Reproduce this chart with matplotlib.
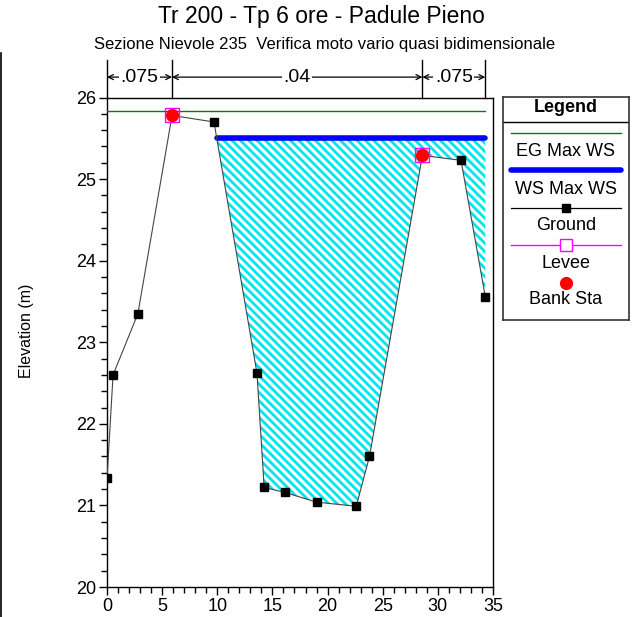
#!/usr/bin/env python3

import numpy as np
import matplotlib
matplotlib.use("Agg")
import matplotlib.pyplot as plt
from matplotlib.lines import Line2D
from matplotlib.ticker import MultipleLocator

# ground profile (station, elevation)
station = [0.0, 0.55, 2.8, 5.9, 9.7, 13.6, 14.25, 16.1, 19.0, 22.6, 23.8, 28.6, 32.1, 34.3]
ground = [21.33, 22.60, 23.35, 25.78, 25.70, 22.62, 21.22, 21.16, 21.04, 20.99, 21.60, 25.29, 25.23, 23.56]

ws_max = 25.50        # WS Max WS
eg_max = 25.83        # EG Max WS
bank_sta = [5.9, 28.6]
bank_elev = [25.78, 25.29]
levee_sta = [5.9, 28.6]
levee_elev = [25.78, 25.29]

# manning's n zones
n_bounds = [0.0, 5.9, 28.6, 34.3]
n_values = [".075", ".04", ".075"]

plt.rcParams['font.family'] = ['Liberation Sans', 'DejaVu Sans']
plt.rcParams['hatch.linewidth'] = 2.0

W, H = 639, 617
fig = plt.figure(figsize=(W / 100, H / 100), dpi=100)
ax = fig.add_axes([107 / W, 1 - 587 / H, (493 - 107) / W, (587 - 97.5) / H])

x = np.array(station)
z = np.array(ground)

# water fill between ground and water surface, only past the left levee
xf = np.linspace(x[0], x[-1], 4000)
zf = np.interp(xf, x, z)
wet = (zf < ws_max) & (xf > levee_sta[0])
ax.fill_between(xf, zf, ws_max, where=wet, facecolor='white', edgecolor='#00e5ee',
                hatch='\\\\\\\\', linewidth=0, zorder=1)

# water surface extent
x_ws0 = xf[wet][0]
ax.plot([x_ws0, x[-1]], [ws_max, ws_max], color='#0000ff', lw=4, solid_capstyle='round', zorder=4)
ax.plot([x[0], x[-1]], [eg_max, eg_max], color='#008000', lw=1, zorder=3)

ax.plot(x, z, color='#444444', lw=0.8, marker='s', ms=6, mfc='black', mec='black', zorder=5)
ax.plot(levee_sta, levee_elev, ls='none', marker='s', ms=10.5, mfc='none', mec='#ff00ff', mew=1, zorder=6)
ax.plot(bank_sta, bank_elev, ls='none', marker='o', ms=8.5, mfc='#ff0000', mec='#ff0000', zorder=7)

ax.set_xlim(0, 35)
ax.set_ylim(20, 26)
ax.xaxis.set_major_locator(MultipleLocator(5))
ax.xaxis.set_minor_locator(MultipleLocator(1))
ax.yaxis.set_major_locator(MultipleLocator(1))
ax.yaxis.set_minor_locator(MultipleLocator(0.2))
ax.tick_params(which='major', direction='out', length=6, width=1, labelsize=13, colors='black', pad=2)
ax.tick_params(which='minor', direction='out', length=4, width=1)
for s in ax.spines.values():
    s.set_linewidth(1)
ax.set_ylabel("Elevation (m)", fontsize=11.5)
ax.yaxis.set_label_coords(-0.19, 0.523)

# manning's n bar above the plot
y_top = 26
for b in n_bounds:
    ax.plot([b, b], [y_top, y_top + 0.46], color='black', lw=1, clip_on=False)
for i, nv in enumerate(n_values):
    a, b = n_bounds[i], n_bounds[i + 1]
    ya = y_top + 0.25
    ax.annotate("", xy=(a, ya), xytext=(b, ya), annotation_clip=False,
                arrowprops=dict(arrowstyle='<->', lw=0.9, color='black', shrinkA=0, shrinkB=0,
                                mutation_scale=9))
    ax.text((a + b) / 2, ya, nv, ha='center', va='center', fontsize=14,
            bbox=dict(facecolor='white', edgecolor='none', pad=1))

fig.text(321 / W, 1 - 16 / H, "Tr 200 - Tp 6 ore - Padule Pieno",
         ha='center', va='center', fontsize=16.5)
fig.text(325 / W, 1 - 44 / H,
         "Sezione Nievole 235  Verifica moto vario quasi bidimensionale",
         ha='center', va='center', fontsize=12)

# left border line
fig.add_artist(Line2D([1 / W, 1 / W], [0, 1 - 53 / H], color='black', lw=1.2))

# legend box drawn by hand
lg = fig.add_axes([503 / W, 1 - 320 / H, (629 - 503) / W, (320 - 97) / H])
lg.set_xlim(0, 126)
lg.set_ylim(320, 97)
lg.set_xticks([])
lg.set_yticks([])
for s in lg.spines.values():
    s.set_linewidth(1.2)
    s.set_color('#333333')
fs = 13
lg.text(63, 108, "Legend", ha='center', va='center', fontsize=fs, fontweight='bold')
lg.plot([0, 126], [122, 122], color='black', lw=1)
lg.plot([8, 118], [133, 133], color='#008000', lw=1)
lg.text(63, 151, "EG Max WS", ha='center', va='center', fontsize=fs)
lg.plot([8, 118], [170, 170], color='#0000ff', lw=4, solid_capstyle='round')
lg.text(63, 189, "WS Max WS", ha='center', va='center', fontsize=fs)
lg.plot([8, 118], [208, 208], color='black', lw=0.9)
lg.plot([63], [208], marker='s', ms=6, color='black')
lg.text(63, 226, "Ground", ha='center', va='center', fontsize=fs)
lg.plot([8, 118], [245, 245], color='#ff00ff', lw=1)
lg.plot([63], [245], marker='s', ms=9, mfc='white', mec='#ff00ff', mew=1)
lg.text(63, 264, "Levee", ha='center', va='center', fontsize=fs)
lg.plot([63], [283], marker='o', ms=8.5, color='#ff0000')
lg.text(63, 300, "Bank Sta", ha='center', va='center', fontsize=fs)

fig.savefig("out.png", dpi=100)
